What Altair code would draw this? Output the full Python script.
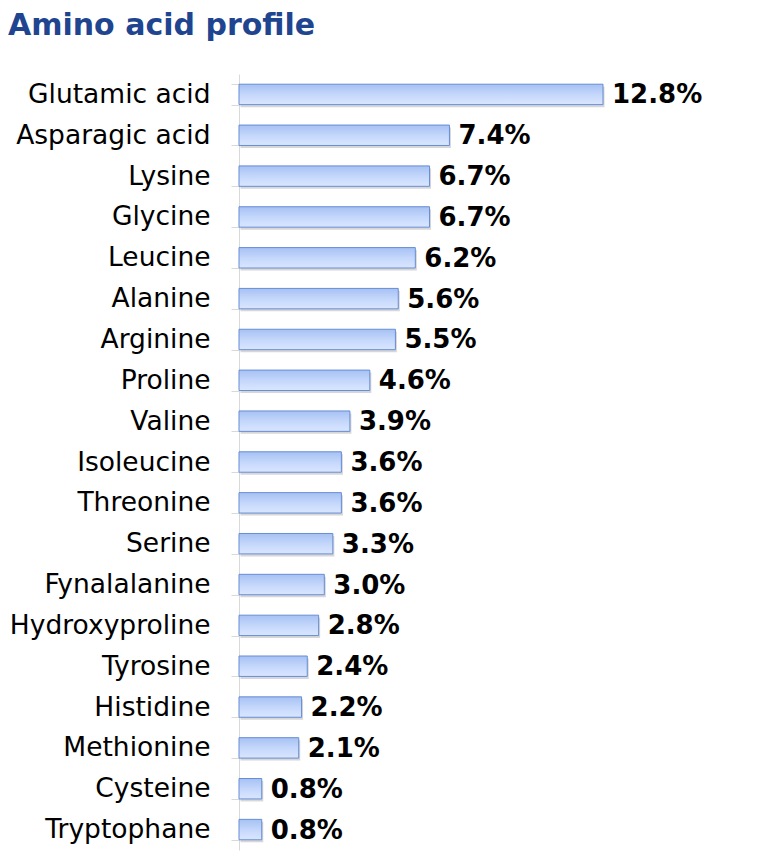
import altair as alt
import pandas as pd

title_text = "Amino acid profile"
amino_acids = ["Glutamic acid", "Asparagic acid", "Lysine", "Glycine", "Leucine",
               "Alanine", "Arginine", "Proline", "Valine", "Isoleucine", "Threonine",
               "Serine", "Fynalalanine", "Hydroxyproline", "Tyrosine", "Histidine",
               "Methionine", "Cysteine", "Tryptophane"]
percent = [12.8, 7.4, 6.7, 6.7, 6.2, 5.6, 5.5, 4.6, 3.9, 3.6, 3.6, 3.3, 3.0, 2.8,
           2.4, 2.2, 2.1, 0.8, 0.8]

df = pd.DataFrame({"acid": amino_acids, "value": percent})
df["label"] = [f"{v:.1f}%" for v in percent]

FONT = "DejaVu Sans"
W, H = 480, 776

y_enc = alt.Y("acid:N", sort=amino_acids, title=None,
              scale=alt.Scale(paddingInner=0.5, paddingOuter=0.25),
              axis=alt.Axis(domainColor="#d9d9d9", tickColor="#d9d9d9", tickSize=8,
                            tickBand="extent", labelFont=FONT, labelFontSize=26.5,
                            labelColor="#000000", labelPadding=21, labelLimit=400))
x_enc = alt.X("value:Q", title=None, axis=None,
              scale=alt.Scale(domain=[0, 12.8 * W / 364], nice=False))

base = alt.Chart(df).encode(y=y_enc, x=x_enc)

shadow = base.mark_bar(color="#bdbdbd", opacity=0.6, yOffset=2.5, xOffset=1.5)

bars = base.mark_bar(
    stroke="#668dd5", strokeWidth=1,
    color=alt.Gradient(
        gradient="linear", x1=0, x2=0, y1=0, y2=1,
        stops=[alt.GradientStop(offset=0, color="#a6c1f3"),
               alt.GradientStop(offset=0.5, color="#c4d7fb"),
               alt.GradientStop(offset=1, color="#dae6ff")]))

labels = base.mark_text(align="left", baseline="middle", dx=9, dy=1, font=FONT,
                        fontSize=26, fontWeight="bold", color="#000000"
                        ).encode(text="label:N")

title = alt.Chart(pd.DataFrame({"t": [title_text]})).mark_text(
    align="left", baseline="alphabetic", font=FONT, fontSize=30, fontWeight="bold",
    color="#1f4590"
).encode(x=alt.value(-231), y=alt.value(-39), text="t:N")

chart = (shadow + bars + labels + title).properties(
    width=W, height=H,
    autosize=alt.AutoSizeParams(type="none"),
    padding={"left": 231, "top": 66, "right": 10, "bottom": 10},
).configure_view(stroke=None)

chart.save("out.html", embed_options={"renderer": "svg", "actions": False})
